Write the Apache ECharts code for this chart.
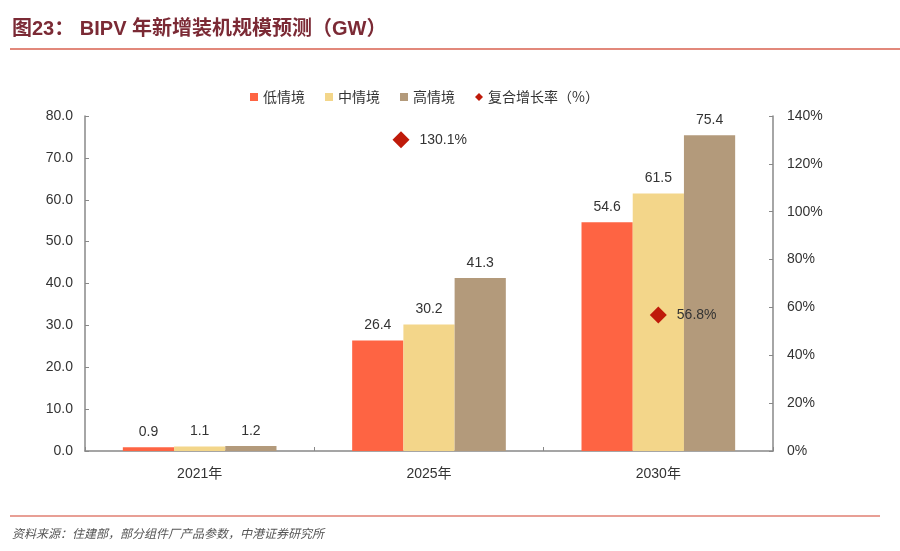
<!DOCTYPE html>
<html>
<head>
<meta charset="utf-8">
<script src="https://cdn.jsdelivr.net/npm/echarts@6/dist/echarts.min.js"></script>
<style>
  html, body { margin: 0; padding: 0; background: #fff; }
  #main { width: 900px; height: 551px; }
</style>
</head>
<body>
<div id="main"></div>
<script>
var years = ['2021年', '2025年', '2030年'];
var lowCase = [0.9, 26.4, 54.6];
var midCase = [1.1, 30.2, 61.5];
var highCase = [1.2, 41.3, 75.4];
var cagr = [null, 130.1, 56.8];

var chart = echarts.init(document.getElementById('main'));
var font = '"Liberation Sans", Arial, "Noto Sans CJK SC", sans-serif';

var option = {
    backgroundColor: '#fff',
    animation: false,
    textStyle: { fontFamily: font },
    graphic: [
        {
            type: 'text', left: 12, top: 19,
            style: {
                text: '图23： BIPV 年新增装机规模预测（GW）',
                font: 'bold 20px "Liberation Sans", "Noto Sans CJK SC", sans-serif',
                fill: '#7b2a35'
            }
        },
        {
            type: 'line',
            shape: { x1: 10, y1: 49, x2: 900, y2: 49 },
            style: { stroke: '#d9604f', lineWidth: 1.5 }
        },
        {
            type: 'line',
            shape: { x1: 10, y1: 516, x2: 880, y2: 516 },
            style: { stroke: '#e07f72', lineWidth: 1.5 }
        },
        {
            type: 'text', left: 12, top: 527,
            style: {
                text: '资料来源：住建部，部分组件厂产品参数，中港证券研究所',
                font: 'italic 12px "Noto Sans CJK SC", sans-serif',
                fill: '#555'
            }
        }
    ],
    legend: {
        top: 85,
        left: 245,
        itemWidth: 8,
        itemHeight: 8,
        itemGap: 20,
        textStyle: { fontSize: 14, color: '#333', fontFamily: '"Noto Sans CJK SC", sans-serif' },
        data: [
            { name: '低情境', icon: 'rect' },
            { name: '中情境', icon: 'rect' },
            { name: '高情境', icon: 'rect' },
            { name: '复合增长率（%）', icon: 'diamond' }
        ]
    },
    grid: { left: 85, right: 127, top: 116, bottom: 100 },
    xAxis: {
        type: 'category',
        data: years,
        axisLine: { lineStyle: { color: '#888', width: 1.5 } },
        axisTick: { show: true, inside: true, length: 4, lineStyle: { color: '#888' } },
        axisLabel: { fontSize: 14, color: '#333', margin: 16 }
    },
    yAxis: [
        {
            type: 'value', min: 0, max: 80, interval: 10,
            axisLine: { show: true, lineStyle: { color: '#888', width: 1.5 } },
            axisTick: { show: true, inside: true, length: 4, lineStyle: { color: '#888' } },
            splitLine: { show: false },
            axisLabel: { fontSize: 14, color: '#333', margin: 12, formatter: function (v) { return v.toFixed(1); } }
        },
        {
            type: 'value', min: 0, max: 140, interval: 20,
            axisLine: { show: true, lineStyle: { color: '#888', width: 1.5 } },
            axisTick: { show: true, inside: true, length: 4, lineStyle: { color: '#888' } },
            splitLine: { show: false },
            axisLabel: { fontSize: 14, color: '#333', margin: 14, formatter: '{value}%' }
        }
    ],
    series: [
        {
            name: '低情境', type: 'bar', data: lowCase,
            barGap: '0%', barCategoryGap: '33%',
            itemStyle: { color: '#fe6443' },
            label: { show: true, position: 'top', distance: 8, fontSize: 14, color: '#333', formatter: function (p) { return p.value.toFixed(1); } }
        },
        {
            name: '中情境', type: 'bar', data: midCase,
            itemStyle: { color: '#f3d68a' },
            label: { show: true, position: 'top', distance: 8, fontSize: 14, color: '#333', formatter: function (p) { return p.value.toFixed(1); } }
        },
        {
            name: '高情境', type: 'bar', data: highCase,
            itemStyle: { color: '#b39a7b' },
            label: { show: true, position: 'top', distance: 8, fontSize: 14, color: '#333', formatter: function (p) { return p.value.toFixed(1); } }
        },
        {
            name: '复合增长率（%）', type: 'scatter', yAxisIndex: 1,
            symbol: 'diamond', symbolSize: 17,
            data: cagr.map(function (v, i) {
                return i === 1 ? { value: v, symbolOffset: [-28, 0] } : v;
            }),
            itemStyle: { color: '#bf1a0a', opacity: 1 },
            label: {
                show: true, position: 'right', distance: 10, fontSize: 14, color: '#333',
                formatter: function (p) { return p.value.toFixed(1) + '%'; }
            }
        }
    ]
};

chart.setOption(option);
</script>
</body>
</html>
